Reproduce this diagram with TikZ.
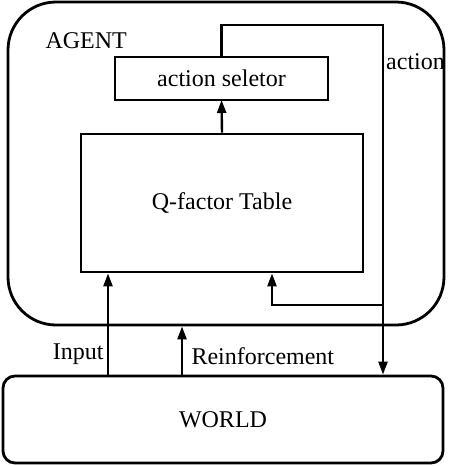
\documentclass[tikz,border=0pt]{standalone}
\usepackage{fontspec}
\setmainfont{Liberation Serif}
\usetikzlibrary{arrows.meta}
\begin{document}
\begin{tikzpicture}[x=1pt,y=-1pt,font=\fontsize{24}{27}\selectfont,
    box/.style={draw,line width=2.8pt,inner sep=0pt},
    wire/.style={line width=2.4pt,-{Triangle[length=13pt,width=9pt]}}]
                \useasboundingbox (0,0) rectangle (452,466);
                \node[box,rounded corners=48pt,minimum width=436pt,minimum height=323pt] (agent) at (226,163.5) {};
                \node[box,rounded corners=12pt,minimum width=440pt,minimum height=87pt] (world) at (223,419.5) {WORLD};
                \node[anchor=west] (agentlabel) at (42,41) {AGENT};
                \node[box,minimum width=213pt,minimum height=43pt] (selector) at (221.5,78.5) {action seletor};
                \node[box,minimum width=282pt,minimum height=138pt] (qtable) at (222,203) {Q-factor Table};
                \coordinate (turn) at (383,25);
                \coordinate (branch) at (383,305);
                \draw[wire] (qtable.north) -- (selector.north |- 0,100);
                \draw[wire] (selector.north) |- (turn) -- (turn |- world.north);
                \draw[wire] (branch) -| ([xshift=50pt]qtable.south);
                \draw[wire] (world.north -| 108,0) -- (qtable.south -| 108,0);
                \draw[wire] (world.north -| 182,0) -- (agent.south -| 182,0);
                \node[anchor=west,inner sep=1pt] (actionlabel) at (385,62) {action};
                \node[anchor=east] (inputlabel) at (107,354) {Input};
                \node[anchor=west] (reinflabel) at (188,356) {Reinforcement};
            \end{tikzpicture}
\end{document}
